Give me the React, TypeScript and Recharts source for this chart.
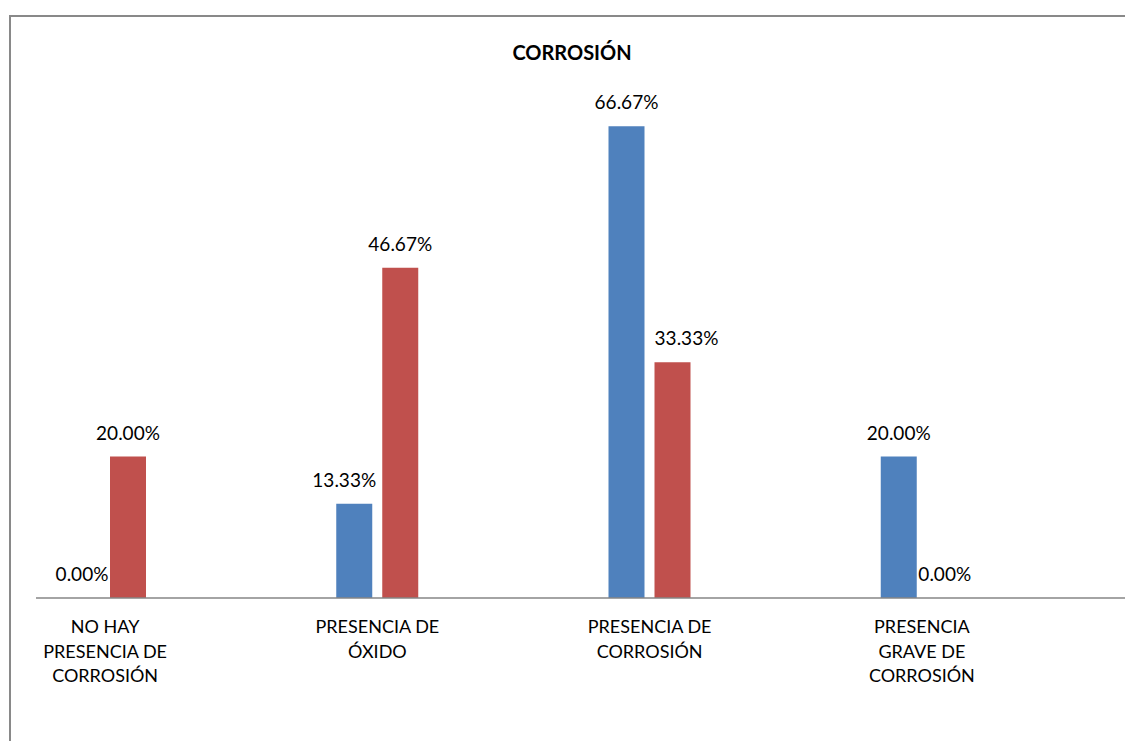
import React from "react";
import { BarChart, Bar, XAxis, YAxis, LabelList } from "recharts";

const categories = [
  "NO HAY\nPRESENCIA DE\nCORROSIÓN",
  "PRESENCIA DE\nÓXIDO",
  "PRESENCIA DE\nCORROSIÓN",
  "PRESENCIA\nGRAVE DE\nCORROSIÓN",
];
const serieAzul = [0, 13.33, 66.67, 20.0];
const serieRoja = [20.0, 46.67, 33.33, 0];

const data = categories.map((name, i) => ({
  name,
  azul: serieAzul[i],
  roja: serieRoja[i],
}));

const FONT = "Lato, 'Open Sans', sans-serif";

// labels that were nudged sideways in the original so they don't collide
const nudgeAzul: Record<number, number> = { 1: -10 };
const nudgeRoja: Record<number, number> = { 2: 14 };

const makeLabel = (nudge: Record<number, number>) => (props: any) => {
  const { x, y, width, value, index } = props;
  const cx = Number(x) + Number(width) / 2 + (nudge[index] || 0);
  return (
    <text
      x={cx}
      y={Number(y) - 17}
      textAnchor="middle"
      fontFamily={FONT}
      fontSize={19}
      fill="#000"
    >
      {Number(value).toFixed(2) + "%"}
    </text>
  );
};

const CategoryTick = (props: any) => {
  const { x, y, payload } = props;
  const lines = String(payload.value).split("\n");
  return (
    <text x={x} y={y} textAnchor="middle" fontFamily={FONT} fontSize={18} fill="#000">
      {lines.map((l, i) => (
        <tspan key={i} x={x} dy={i === 0 ? 35 : 24.5}>
          {l}
        </tspan>
      ))}
    </text>
  );
};

export default function App() {
  return (
    <div
      style={{
        position: "fixed",
        left: 0,
        top: 0,
        width: 1125,
        height: 741,
        background: "#fff",
        overflow: "hidden",
      }}
    >
      {/* chart area border, only left and top visible in the crop */}
      <div
        style={{
          position: "absolute",
          left: 9,
          top: 15,
          width: 1200,
          height: 800,
          borderLeft: "2px solid #898989",
          borderTop: "2px solid #898989",
        }}
      />
      <svg
        width={1125}
        height={741}
        style={{ position: "absolute", left: 0, top: 0 }}
      >
        <text
          x={572}
          y={60}
          textAnchor="middle"
          fontFamily={FONT}
          fontWeight="bold"
          fontSize={20}
          fill="#000"
        >
          CORROSIÓN
        </text>
      </svg>
      <div style={{ position: "absolute", left: 0, top: 0 }}>
        <BarChart
          width={1125}
          height={741}
          data={data}
          barSize={36}
          barGap={10}
          margin={{ top: 32, right: 0, left: 36, bottom: 43 }}
        >
          <XAxis
            dataKey="name"
            height={100}
            interval={0}
            tickLine={false}
            tickSize={0}
            tickMargin={0}
            padding={{ left: -67, right: 67 }}
            axisLine={{ stroke: "#868686", strokeWidth: 1.5 }}
            tick={<CategoryTick />}
          />
          <YAxis hide domain={[0, 80]} />
          <Bar dataKey="azul" fill="#4F81BD" minPointSize={0.01} isAnimationActive={false}>
            <LabelList dataKey="azul" content={makeLabel(nudgeAzul)} />
          </Bar>
          <Bar dataKey="roja" fill="#C0504D" minPointSize={0.01} isAnimationActive={false}>
            <LabelList dataKey="roja" content={makeLabel(nudgeRoja)} />
          </Bar>
        </BarChart>
      </div>
    </div>
  );
}
